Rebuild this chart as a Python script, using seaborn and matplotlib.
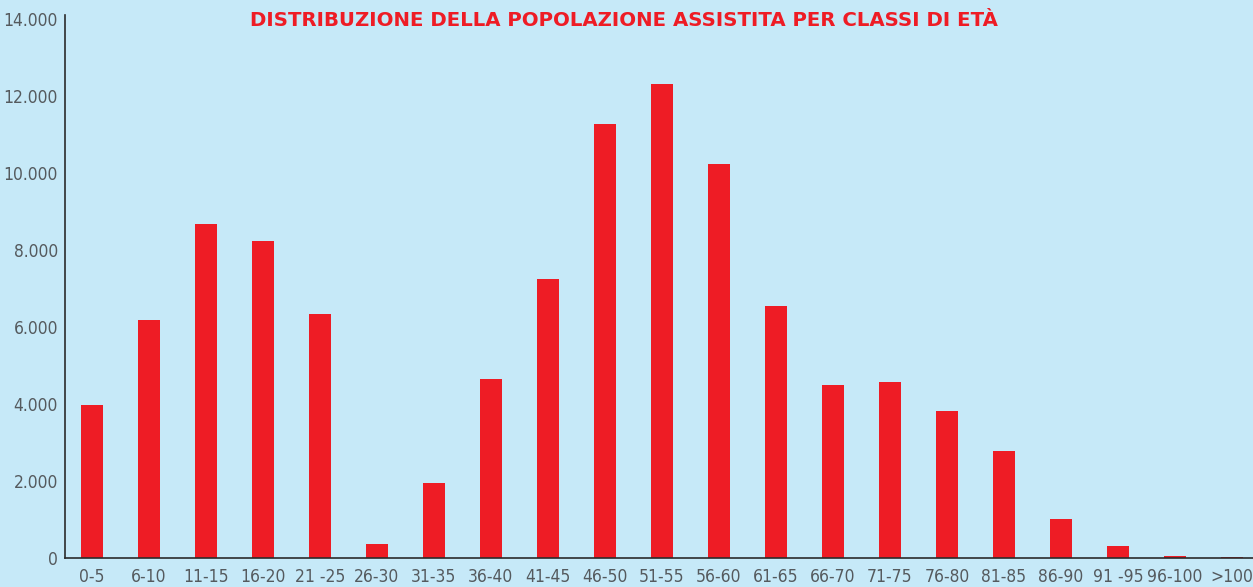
import numpy as np
import pandas as pd
import matplotlib.pyplot as plt
import matplotlib.ticker as mticker
import seaborn as sns

# Data
classi = ['0-5', '6-10', '11-15', '16-20', '21 -25', '26-30', '31-35',
          '36-40', '41-45', '46-50', '51-55', '56-60', '61-65', '66-70',
          '71-75', '76-80', '81-85', '86-90', '91 -95', '96-100', '>100']
assistiti = [3970, 6180, 8680, 8230, 6340, 360, 1950,
             4650, 7250, 11280, 12320, 10240, 6550, 4490,
             4570, 3820, 2780, 1010, 320, 60, 30]

df = pd.DataFrame({'classe': classi, 'assistiti': assistiti})

bg = '#c6e9f8'
red = '#ee1c25'
grey = '#555a5e'

sns.set_style('white')
plt.rcParams['font.family'] = ['DejaVu Sans']

fig = plt.figure(figsize=(12.53, 5.87), dpi=100, facecolor=bg)
ax = fig.add_axes([65 / 1253, 29 / 587, 1188 / 1253, 543 / 587])
ax.set_facecolor(bg)

sns.barplot(data=df, x='classe', y='assistiti', color=red, width=0.385,
            saturation=1, linewidth=0, ax=ax)

ax.set_xlim(-0.47, 20.37)
ax.set_ylim(0, 14100)
ax.yaxis.set_major_locator(mticker.MultipleLocator(2000))
ax.yaxis.set_major_formatter(
    mticker.FuncFormatter(lambda v, p: f'{int(v):,}'.replace(',', '.')))

ax.set_xlabel('')
ax.set_ylabel('')
ax.tick_params(axis='both', length=0, colors=grey)
ax.tick_params(axis='y', pad=5)
ax.tick_params(axis='x', pad=7)

fig.canvas.draw()
for lab in ax.get_xticklabels() + ax.get_yticklabels():
    lab.set_fontstretch('condensed')
    lab.set_fontsize(12.5)

for s in ['top', 'right']:
    ax.spines[s].set_visible(False)
for s in ['left', 'bottom']:
    ax.spines[s].set_color('#2b2b2b')
    ax.spines[s].set_linewidth(1.2)

# Title
fig.text(624 / 1253, 1 - 20 / 587, 'DISTRIBUZIONE DELLA POPOLAZIONE ASSISTITA PER CLASSI DI ETÀ',
         ha='center', va='center', color=red, fontsize=14.2, fontweight='bold')

plt.savefig('out.png', dpi=100, facecolor=bg)
